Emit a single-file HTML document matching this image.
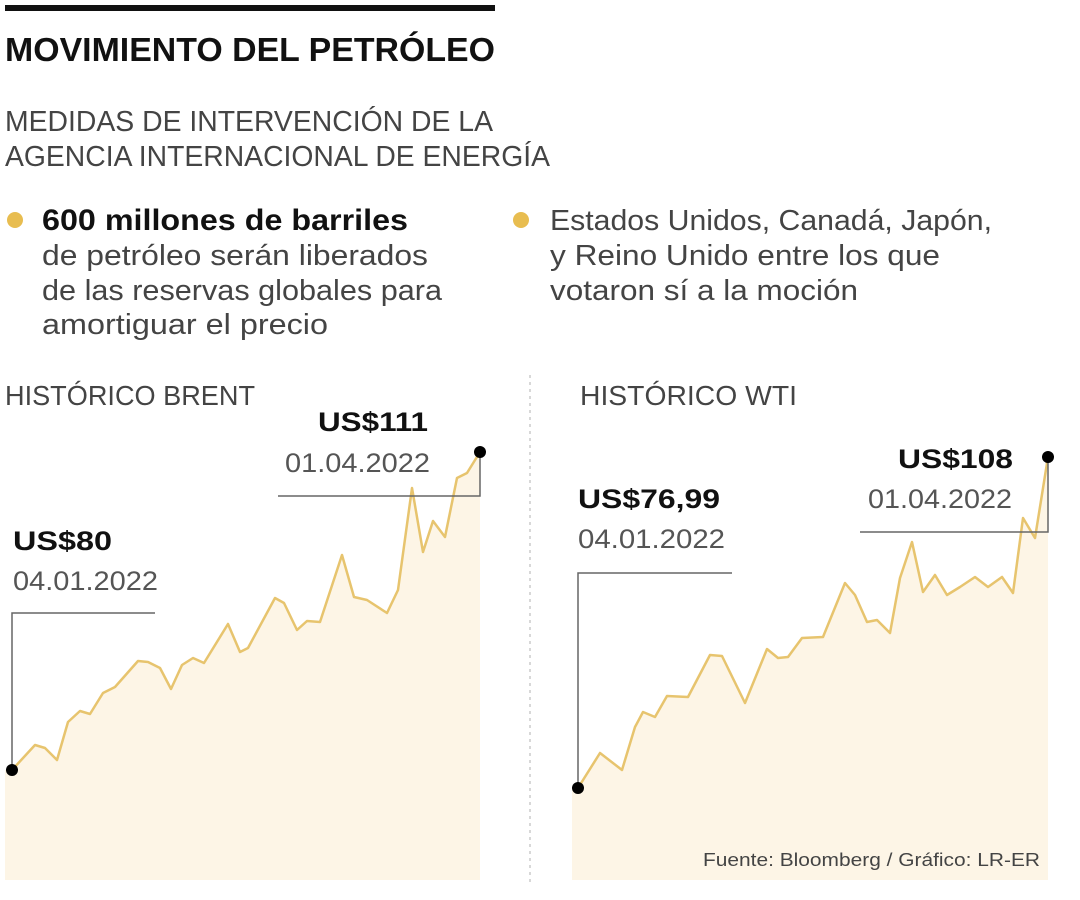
<!DOCTYPE html>
<html><head><meta charset="utf-8"><style>body{margin:0;background:#fff}svg{display:block}</style></head><body>
<svg width="1080" height="900" viewBox="0 0 1080 900" xmlns="http://www.w3.org/2000/svg" font-family="'Liberation Sans', sans-serif">
<rect x="5" y="5" width="490" height="6" fill="#111"/>
<text x="5" y="61" font-size="33" font-weight="bold" fill="#111" textLength="490" lengthAdjust="spacingAndGlyphs">MOVIMIENTO DEL PETRÓLEO</text>
<g fill="#444" font-size="29">
<text x="5" y="131" textLength="488" lengthAdjust="spacingAndGlyphs">MEDIDAS DE INTERVENCIÓN DE LA</text>
<text x="5" y="166" textLength="545" lengthAdjust="spacingAndGlyphs">AGENCIA INTERNACIONAL DE ENERGÍA</text>
</g>
<circle cx="15" cy="220" r="8" fill="#e8bd50"/>
<circle cx="521" cy="220" r="8" fill="#e8bd50"/>
<text x="42" y="230" font-size="30" font-weight="bold" fill="#111" textLength="366" lengthAdjust="spacingAndGlyphs">600 millones de barriles</text>
<g fill="#444" font-size="29">
<text x="42" y="265" textLength="386" lengthAdjust="spacingAndGlyphs">de petróleo serán liberados</text>
<text x="42" y="300" textLength="400" lengthAdjust="spacingAndGlyphs">de las reservas globales para</text>
<text x="42" y="334" textLength="286" lengthAdjust="spacingAndGlyphs">amortiguar el precio</text>
<text x="550" y="230" textLength="442" lengthAdjust="spacingAndGlyphs">Estados Unidos, Canadá, Japón,</text>
<text x="550" y="265" textLength="390" lengthAdjust="spacingAndGlyphs">y Reino Unido entre los que</text>
<text x="550" y="300" textLength="308" lengthAdjust="spacingAndGlyphs">votaron sí a la moción</text>
<text x="5" y="405" font-size="28" textLength="250" lengthAdjust="spacingAndGlyphs">HISTÓRICO BRENT</text>
<text x="580" y="405" font-size="28" textLength="217" lengthAdjust="spacingAndGlyphs">HISTÓRICO WTI</text>
</g>
<line x1="530" y1="375" x2="530" y2="882" stroke="#ccc" stroke-width="1.5" stroke-dasharray="3,4"/>
<!-- Brent -->
<path d="M12,770 L35,745 45,748 57,760 68,722 80,711 90,714 103,693 115,687 138,661 148,662 160,668 171,689 182,665 193,658 204,663 228,624 240,652 248,648 275,598 284,603 297,630 307,621 320,622 342,555 354,597 367,600 387,613 398,590 412,488 423,552 433,521 445,537 457,478 467,473 480,452 L480,880 L5,880 L5,770 Z" fill="#fdf5e6"/>
<polyline points="12,770 35,745 45,748 57,760 68,722 80,711 90,714 103,693 115,687 138,661 148,662 160,668 171,689 182,665 193,658 204,663 228,624 240,652 248,648 275,598 284,603 297,630 307,621 320,622 342,555 354,597 367,600 387,613 398,590 412,488 423,552 433,521 445,537 457,478 467,473 480,452" fill="none" stroke="#e7c46e" stroke-width="2.5" stroke-linejoin="round"/>
<polyline points="155,613 12,613 12,770" fill="none" stroke="#666" stroke-width="1.5"/>
<polyline points="278,496 480,496 480,452" fill="none" stroke="#666" stroke-width="1.5"/>
<circle cx="12" cy="770" r="6" fill="#000"/>
<circle cx="480" cy="452" r="6" fill="#000"/>
<text x="318" y="431" font-size="27" font-weight="bold" fill="#111" textLength="110" lengthAdjust="spacingAndGlyphs">US$111</text>
<text x="285" y="472" font-size="27" fill="#555" textLength="145" lengthAdjust="spacingAndGlyphs">01.04.2022</text>
<text x="13" y="550" font-size="27" font-weight="bold" fill="#111" textLength="99" lengthAdjust="spacingAndGlyphs">US$80</text>
<text x="13" y="590" font-size="27" fill="#555" textLength="145" lengthAdjust="spacingAndGlyphs">04.01.2022</text>
<!-- WTI -->
<path d="M578,788 L600,753 622,770 635,727 643,712 655,717 667,696 688,697 710,655 722,656 745,703 767,649 778,658 788,657 802,638 823,637 845,583 855,595 867,622 877,620 890,633 900,578 912,542 923,592 935,575 947,595 960,587 975,577 988,587 1002,577 1013,593 1023,518 1035,538 1048,457 L1048,880 L572,880 L572,788 Z" fill="#fdf5e6"/>
<polyline points="578,788 600,753 622,770 635,727 643,712 655,717 667,696 688,697 710,655 722,656 745,703 767,649 778,658 788,657 802,638 823,637 845,583 855,595 867,622 877,620 890,633 900,578 912,542 923,592 935,575 947,595 960,587 975,577 988,587 1002,577 1013,593 1023,518 1035,538 1048,457" fill="none" stroke="#e7c46e" stroke-width="2.5" stroke-linejoin="round"/>
<polyline points="732,573 578,573 578,788" fill="none" stroke="#666" stroke-width="1.5"/>
<polyline points="860,532 1048,532 1048,457" fill="none" stroke="#666" stroke-width="1.5"/>
<circle cx="578" cy="788" r="6" fill="#000"/>
<circle cx="1048" cy="457" r="6" fill="#000"/>
<text x="578" y="508" font-size="27" font-weight="bold" fill="#111" textLength="142" lengthAdjust="spacingAndGlyphs">US$76,99</text>
<text x="578" y="548" font-size="27" fill="#555" textLength="147" lengthAdjust="spacingAndGlyphs">04.01.2022</text>
<text x="898" y="468" font-size="27" font-weight="bold" fill="#111" textLength="115" lengthAdjust="spacingAndGlyphs">US$108</text>
<text x="868" y="508" font-size="27" fill="#555" textLength="144" lengthAdjust="spacingAndGlyphs">01.04.2022</text>
<text x="703" y="866" font-size="18" fill="#444" textLength="337" lengthAdjust="spacingAndGlyphs">Fuente: Bloomberg / Gráfico: LR-ER</text>
</svg>
</body></html>
